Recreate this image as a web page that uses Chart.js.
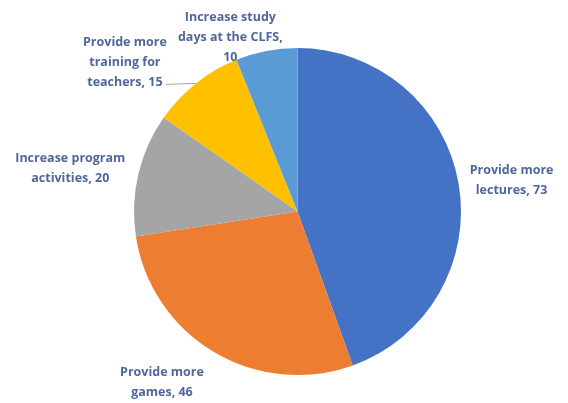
<!DOCTYPE html>
<html>
<head>
<meta charset="utf-8">
<script src="https://cdn.jsdelivr.net/npm/chart.js@4/dist/chart.umd.min.js"></script>
<style>
  html, body { margin: 0; padding: 0; background: #fff; }
  #wrap { width: 568px; height: 403px; }
</style>
</head>
<body>
<div id="wrap"><canvas id="suggestions"></canvas></div>
<script>
// suggestion categories (label lines) and counts
const categories = [
  ["Provide more", "lectures, 73"],
  ["Provide more", "games, 46"],
  ["Increase program", "activities, 20"],
  ["Provide more", "training for", "teachers, 15"],
  ["Increase study", "days at the CLFS,", "10"]
];
const counts = [73, 46, 20, 15, 10];
const sliceColors = ["#4472C4", "#ED7D31", "#A5A5A5", "#FFC000", "#5B9BD5"];

// where each label sits, measured from the slice's outer edge at its mid angle
const labelOffsets = [
  { dx: 53, dy: -3 },
  { dx: -52, dy: 30 },
  { dx: -68, dy: -6 },
  { dx: -71, dy: -21 },
  { dx: -36, dy: -14 }
];
const leaderLines = [false, false, false, true, false];

const labelColor = "#50679a";
const labelFont = "bold 12.5px 'Open Sans'";
const lineHeight = 20;

// draws the category labels outside the pie, Excel style
const outsideLabels = {
  id: "outsideLabels",
  afterDatasetsDraw(chart) {
    const ctx = chart.ctx;
    const meta = chart.getDatasetMeta(0);
    ctx.save();
    ctx.font = labelFont;
    ctx.fillStyle = labelColor;
    ctx.textAlign = "center";
    ctx.textBaseline = "middle";
    meta.data.forEach((arc, i) => {
      const p = arc.getProps(["x", "y", "startAngle", "endAngle", "outerRadius"], true);
      const mid = (p.startAngle + p.endAngle) / 2;
      const ex = p.x + Math.cos(mid) * p.outerRadius;
      const ey = p.y + Math.sin(mid) * p.outerRadius;
      const cx = ex + labelOffsets[i].dx;
      const cy = ey + labelOffsets[i].dy;
      const lines = categories[i];
      const top = cy - (lines.length - 1) * lineHeight / 2;
      lines.forEach((line, j) => ctx.fillText(line, cx, top + j * lineHeight));
      if (leaderLines[i]) {
        const lastW = ctx.measureText(lines[lines.length - 1]).width;
        const ly = top + (lines.length - 1) * lineHeight + 2;
        ctx.strokeStyle = "#a6a6a6";
        ctx.lineWidth = 1;
        ctx.beginPath();
        ctx.moveTo(cx + lastW / 2 + 3, ly);
        ctx.lineTo(ex, ey);
        ctx.stroke();
      }
    });
    ctx.restore();
  }
};

new Chart(document.getElementById("suggestions"), {
  type: "pie",
  data: {
    labels: categories.map(c => c.join(" ")),
    datasets: [{
      data: counts,
      backgroundColor: sliceColors,
      borderWidth: 0
    }]
  },
  options: {
    responsive: true,
    maintainAspectRatio: false,
    animation: false,
    layout: {
      padding: { top: 48, bottom: 28, left: 134, right: 107 }
    },
    plugins: {
      legend: { display: false },
      tooltip: { enabled: false }
    }
  },
  plugins: [outsideLabels]
});
</script>
</body>
</html>
